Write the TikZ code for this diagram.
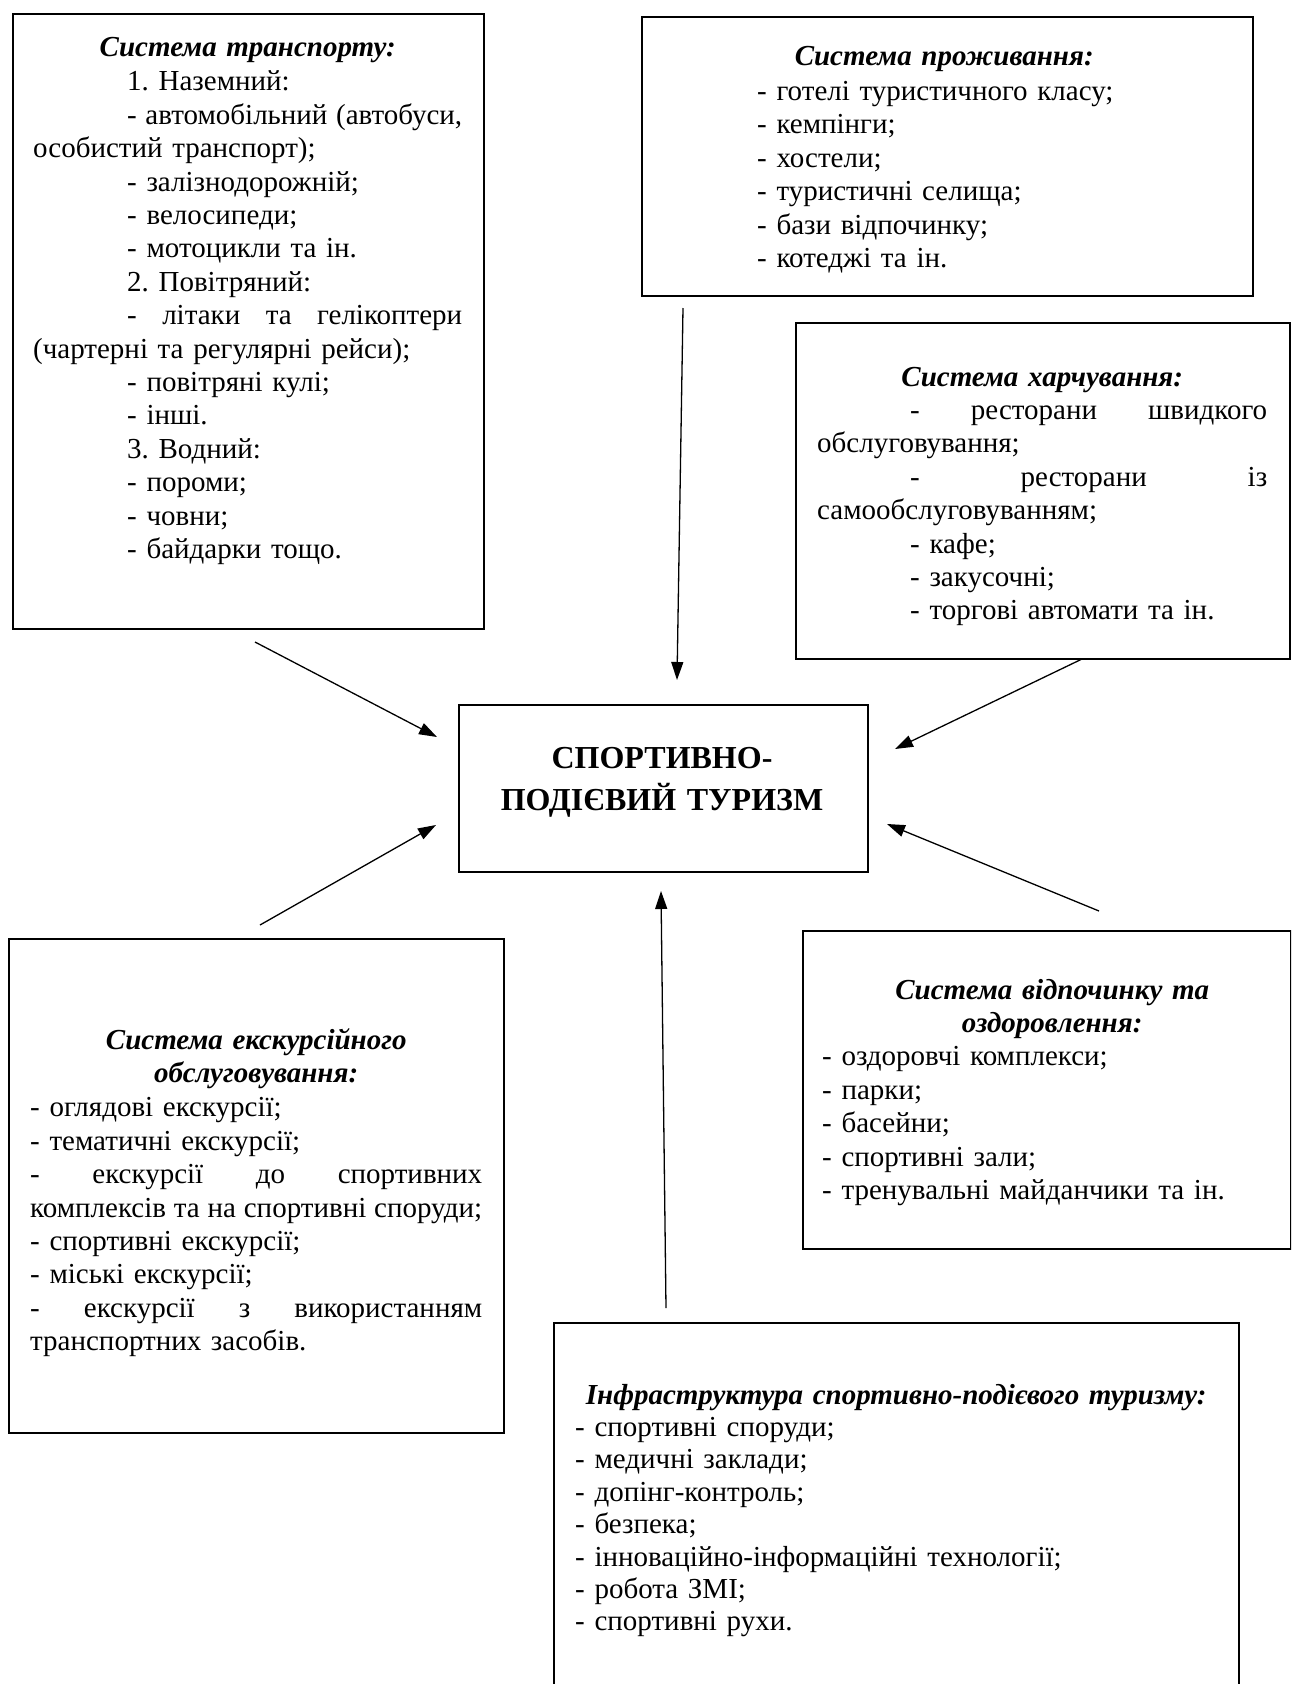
\documentclass[tikz,border=0pt]{standalone}
\usepackage{fontspec}
\setmainfont{Liberation Serif}
\usetikzlibrary{arrows.meta}
\newlength\tw
\newlength\indw
\newcommand\ctitle[1]{\makebox[\tw][c]{\bfseries\itshape #1}}
\newcommand\jline[1]{\leavevmode\hbox to\tw{#1}}
\newcommand\ijline[1]{\leavevmode\hspace*{\indw}\hbox to\dimexpr\tw-\indw\relax{#1}}
\newcommand\indt{\leavevmode\hspace*{\indw}}
\tikzset{
  box/.style={draw, line width=2.4pt, inner sep=0pt, anchor=north west},
  txt/.style={anchor=base west, inner sep=0pt, align=left, text width=800pt,
    font=\fontsize{29}{33.4}\selectfont\frenchspacing},
  arr/.style={line width=1.3pt, -{Triangle[length=18pt,width=12pt]}}
}
\begin{document}
\begin{tikzpicture}[x=1pt,y=-1pt]
\useasboundingbox (0,0) rectangle (1291,1684);
\clip (0,0) rectangle (1291,1684);

% boxes
\node[box, minimum width=471pt, minimum height=615pt] (transport) at (12,13) {};
\node[box, minimum width=611pt, minimum height=279pt] (accom) at (641,16) {};
\node[box, minimum width=494pt, minimum height=336pt] (food) at (795,322) {};
\node[box, minimum width=409pt, minimum height=167pt] (center) at (458,704) {};
\node[box, minimum width=495pt, minimum height=494pt] (excursion) at (8,938) {};
\node[box, minimum width=488pt, minimum height=318pt] (recreation) at (802,930) {};
\node[box, minimum width=685pt, minimum height=420pt] (infra) at (553,1322) {};

% center text
\node[anchor=base, inner sep=0pt, align=center, text width=400pt,
  font=\fontsize{32}{42}\selectfont\bfseries] (centertext) at (662,768)
  {СПОРТИВНО-\\ПОДІЄВИЙ ТУРИЗМ};

% transport text
\node[txt] (transporttext) at (33,56) {\setlength\parindent{0pt}\setlength\tw{429pt}\setlength\indw{94pt}%
\ctitle{Система транспорту:}\\[1.5pt]
\indt 1. Наземний:\\
\ijline{-\hfill автомобільний\hfill (автобуси,}\\
особистий транспорт);\\
\indt - залізнодорожній;\\
\indt - велосипеди;\\
\indt - мотоцикли та ін.\\
\indt 2. Повітряний:\\
\ijline{-\hfill літаки\hfill та\hfill гелікоптери}\\
(чартерні та регулярні рейси);\\
\indt - повітряні кулі;\\
\indt - інші.\\
\indt 3. Водний:\\
\indt - пороми;\\
\indt - човни;\\
\indt - байдарки тощо.};

% accommodation text
\node[txt] (accomtext) at (757,65) {\setlength\parindent{0pt}\setlength\tw{374pt}%
\ctitle{Система проживання:}\\[2pt]
- готелі туристичного класу;\\
- кемпінги;\\
- хостели;\\
- туристичні селища;\\
- бази відпочинку;\\
- котеджі та ін.};

% food text
\node[txt] (foodtext) at (817,386) {\setlength\parindent{0pt}\setlength\tw{450pt}\setlength\indw{93pt}%
\ctitle{Система харчування:}\\
\ijline{-\hfill ресторани\hfill швидкого}\\
обслуговування;\\
\ijline{-\hfill ресторани\hfill із}\\
самообслуговуванням;\\
\indt - кафе;\\
\indt - закусочні;\\
\indt - торгові автомати та ін.};

% excursion text
\node[txt] (excursiontext) at (30,1049) {\setlength\parindent{0pt}\setlength\tw{452pt}%
\ctitle{Система екскурсійного}\\
\ctitle{обслуговування:}\\[1pt]
- оглядові екскурсії;\\
- тематичні екскурсії;\\
\jline{-\hfill екскурсії\hfill до\hfill спортивних}\\
\jline{комплексів\hfill та\hfill на\hfill спортивні\hfill споруди;}\\
- спортивні екскурсії;\\
- міські екскурсії;\\
\jline{-\hfill екскурсії\hfill з\hfill використанням}\\
транспортних засобів.};

% recreation text
\node[txt] (recreationtext) at (822,999) {\setlength\parindent{0pt}\setlength\tw{460pt}%
\ctitle{Система відпочинку та}\\
\ctitle{оздоровлення:}\\
- оздоровчі комплекси;\\
- парки;\\
- басейни;\\
- спортивні зали;\\
- тренувальні майданчики та ін.};

% infrastructure text
\node[txt, font=\fontsize{29}{32.4}\selectfont\frenchspacing] (infratext) at (575,1404) {\setlength\parindent{0pt}\setlength\tw{642pt}%
\ctitle{Інфраструктура спортивно-подієвого туризму:}\\
- спортивні споруди;\\
- медичні заклади;\\
- допінг-контроль;\\
- безпека;\\
- інноваційно-інформаційні технології;\\
- робота ЗМІ;\\
- спортивні рухи.};

% arrows
\coordinate (aT) at (255,642);  \coordinate (hT) at (437,737);
\coordinate (aA) at (683,308);  \coordinate (hA) at (677,680);
\coordinate (aF) at (1082,659); \coordinate (hF) at (895,749);
\coordinate (aE) at (260,925);  \coordinate (hE) at (436,825);
\coordinate (aR) at (1099,911); \coordinate (hR) at (887,824);
\coordinate (aI) at (666,1308); \coordinate (hI) at (661,891);
\draw[arr] (aT) -- (hT);
\draw[arr] (aA) -- (hA);
\draw[arr] (aF) -- (hF);
\draw[arr] (aE) -- (hE);
\draw[arr] (aR) -- (hR);
\draw[arr] (aI) -- (hI);
\end{tikzpicture}
\end{document}
